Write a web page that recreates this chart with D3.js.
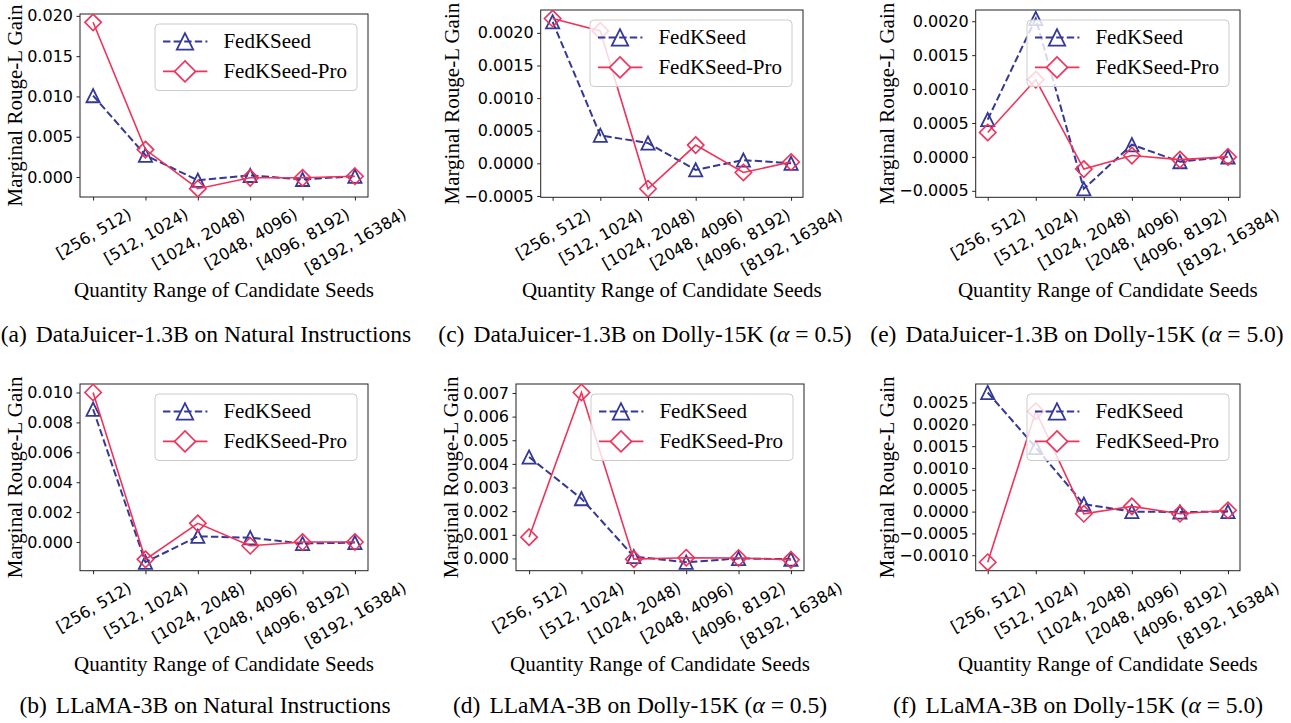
<!DOCTYPE html>
<html>
<head>
<meta charset="utf-8">
<script src="https://cdn.jsdelivr.net/npm/d3@7"></script>
<style>
  body { margin: 0; background: #fff; }
</style>
</head>
<body>
<svg id="chart" width="1291" height="723"></svg>
<script>
// Data
var categories = ["[256, 512)", "[512, 1024)", "[1024, 2048)", "[2048, 4096)", "[4096, 8192)", "[8192, 16384)"];
var seriesNames = ["FedKSeed", "FedKSeed-Pro"];

var aFedKSeed = [0.0101, 0.0027, -0.0004, 0.0002, -0.0003, 0.0001];
var aPro      = [0.0192, 0.0034, -0.00145, -0.0001, -0.0001, 0.0001];
var cFedKSeed = [0.00217, 0.00043, 0.00031, -0.0001, 0.00005, 0.0];
var cPro      = [0.00222, 0.00203, -0.00039, 0.00028, -0.00014, 0.00002];
var eFedKSeed = [0.00055, 0.00204, -0.00047, 0.00018, -0.00007, 0.0];
var ePro      = [0.00036, 0.00114, -0.00018, 0.00002, -0.00004, 0.0];
var bFedKSeed = [0.00888, -0.00135, 0.00038, 0.00029, -0.0001, -0.00004];
var bPro      = [0.0100, -0.00116, 0.00125, -0.00025, 0.0, 0.0];
var dFedKSeed = [0.00429, 0.00253, 0.00008, -0.00016, 0.0, -0.00003];
var dPro      = [0.0009, 0.00702, -0.00003, 0.00003, 0.00002, -0.00006];
var fFedKSeed = [0.00273, 0.00147, 0.00017, 0.0, -0.00001, 0.0];
var fPro      = [-0.00116, 0.0023, -0.00005, 0.00012, -0.00005, 0.00003];

var aTicks = [0, 0.005, 0.010, 0.015, 0.020];
var cTicks = [-0.0005, 0, 0.0005, 0.0010, 0.0015, 0.0020];
var eTicks = [-0.0005, 0, 0.0005, 0.0010, 0.0015, 0.0020];
var bTicks = [0, 0.002, 0.004, 0.006, 0.008, 0.010];
var dTicks = [0, 0.001, 0.002, 0.003, 0.004, 0.005, 0.006, 0.007];
var fTicks = [-0.0010, -0.0005, 0, 0.0005, 0.0010, 0.0015, 0.0020, 0.0025];

var xLabel = "Quantity Range of Candidate Seeds";
var yLabel = "Marginal Rouge-L Gain";

// Panel layout (pixel boxes of each axes)
var panels = [
  { fed: aFedKSeed, pro: aPro, ticks: aTicks, fmt: ".3f", left: 80, right: 368, top: 14, bottom: 197,
    cap: ["(a)", "DataJuicer-1.3B on Natural Instructions"], capX: 206, capY: 342 },
  { fed: cFedKSeed, pro: cPro, ticks: cTicks, fmt: ".4f", left: 540.7, right: 803, top: 10, bottom: 197.3,
    cap: ["(c)", "DataJuicer-1.3B on Dolly-15K (", "0.5)"], capX: 645, capY: 342 },
  { fed: eFedKSeed, pro: ePro, ticks: eTicks, fmt: ".4f", left: 975.7, right: 1240, top: 10, bottom: 197.3,
    cap: ["(e)", "DataJuicer-1.3B on Dolly-15K (", "5.0)"], capX: 1077, capY: 342 },
  { fed: bFedKSeed, pro: bPro, ticks: bTicks, fmt: ".3f", left: 80, right: 368, top: 384, bottom: 570.7,
    cap: ["(b)", "LLaMA-3B on Natural Instructions"], capX: 205, capY: 713 },
  { fed: dFedKSeed, pro: dPro, ticks: dTicks, fmt: ".3f", left: 516, right: 804, top: 384, bottom: 570.7,
    cap: ["(d)", "LLaMA-3B on Dolly-15K (", "0.5)"], capX: 640, capY: 713 },
  { fed: fFedKSeed, pro: fPro, ticks: fTicks, fmt: ".4f", left: 975.7, right: 1240, top: 384, bottom: 570.7,
    cap: ["(f)", "LLaMA-3B on Dolly-15K (", "5.0)"], capX: 1078, capY: 713 }
];

var blue = "#343896", pink = "#f0325a";
var serif = "'Liberation Serif', 'Times New Roman', serif";
var sans = "'DejaVu Sans', sans-serif";

var svg = d3.select("#chart");

function triPath(r) {
  return "M0," + (-r) + "L" + (-r) + "," + r + "L" + r + "," + r + "Z";
}
function diaPath(r) {
  return "M0," + (-r) + "L" + r + ",0L0," + r + "L" + (-r) + ",0Z";
}

panels.forEach(function (p, k) {
  var g = svg.append("g");

  // Scales: matplotlib style 5% margins
  var x = d3.scaleLinear().domain([-0.25, 5.25]).range([p.left, p.right]);
  var ext = d3.extent(p.fed.concat(p.pro));
  var pad = (ext[1] - ext[0]) * 0.05;
  var y = d3.scaleLinear().domain([ext[0] - pad, ext[1] + pad]).range([p.bottom, p.top]);

  // Y axis
  var yAxis = g.append("g")
    .attr("transform", "translate(" + p.left + ",0)")
    .call(d3.axisLeft(y).tickValues(p.ticks).tickFormat(d3.format(p.fmt))
      .tickSize(3.5).tickPadding(3.5).tickSizeOuter(0));
  yAxis.select(".domain").remove();
  yAxis.selectAll("line").attr("stroke", "#222");
  yAxis.selectAll("text").style("font-family", sans).style("font-size", "16px").attr("fill", "#000");

  var maxW = 0;
  yAxis.selectAll("text").each(function () { maxW = Math.max(maxW, this.getBBox().width); });

  // X axis
  var xAxis = g.append("g")
    .attr("transform", "translate(0," + p.bottom + ")")
    .call(d3.axisBottom(x).tickValues(d3.range(categories.length))
      .tickFormat(function (i) { return categories[i]; })
      .tickSize(3.5).tickSizeOuter(0));
  xAxis.select(".domain").remove();
  xAxis.selectAll("line").attr("stroke", "#222");
  xAxis.selectAll("text")
    .style("font-family", sans).style("font-size", "16px").attr("fill", "#000")
    .attr("text-anchor", "middle").attr("dy", "0.35em")
    .each(function () {
      var w = this.getComputedTextLength();
      var yc = 10 + (w * 0.5 + 13 * 0.866) / 2;
      d3.select(this).attr("y", yc).attr("transform", "rotate(-30,0," + yc + ")");
    });

  // Frame
  g.append("rect")
    .attr("x", p.left).attr("y", p.top)
    .attr("width", p.right - p.left).attr("height", p.bottom - p.top)
    .attr("fill", "none").attr("stroke", "#222").attr("stroke-width", 1);

  // Axis labels
  g.append("text")
    .attr("transform", "translate(" + (p.left - 7 - maxW - 5.3) + "," + ((p.top + p.bottom) / 2) + ") rotate(-90)")
    .attr("text-anchor", "middle")
    .style("font-family", serif).style("font-size", "21px")
    .text(yLabel);
  g.append("text")
    .attr("x", (p.left + p.right) / 2).attr("y", p.bottom + 100)
    .attr("text-anchor", "middle")
    .style("font-family", serif).style("font-size", "21px")
    .text(xLabel);

  // Clip region
  var clipId = "clip" + k;
  g.append("clipPath").attr("id", clipId).append("rect")
    .attr("x", p.left).attr("y", p.top)
    .attr("width", p.right - p.left).attr("height", p.bottom - p.top);
  var plot = g.append("g").attr("clip-path", "url(#" + clipId + ")");

  var line = d3.line().x(function (d, i) { return x(i); }).y(function (d) { return y(d); });

  // FedKSeed
  plot.append("path").datum(p.fed)
    .attr("d", line).attr("fill", "none").attr("stroke", blue)
    .attr("stroke-width", 2).attr("stroke-dasharray", "7.4,3.2");
  plot.selectAll(".tri").data(p.fed).enter().append("path")
    .attr("class", "tri")
    .attr("transform", function (d, i) { return "translate(" + x(i) + "," + y(d) + ")"; })
    .attr("d", triPath(6.6)).attr("fill", "none").attr("stroke", blue).attr("stroke-width", 1.8);

  // FedKSeed-Pro
  plot.append("path").datum(p.pro)
    .attr("d", line).attr("fill", "none").attr("stroke", pink).attr("stroke-width", 1.6);
  plot.selectAll(".dia").data(p.pro).enter().append("path")
    .attr("class", "dia")
    .attr("transform", function (d, i) { return "translate(" + x(i) + "," + y(d) + ")"; })
    .attr("d", diaPath(8.2)).attr("fill", "none").attr("stroke", pink).attr("stroke-width", 1.6);

  // Legend (upper right)
  var lw = 202, lh = 66.5;
  var lx = p.right - 11 - lw, ly = p.top + 10;
  var leg = g.append("g").attr("transform", "translate(" + lx + "," + ly + ")");
  leg.append("rect").attr("width", lw).attr("height", lh).attr("rx", 4)
    .attr("fill", "#fff").attr("fill-opacity", 0.8)
    .attr("stroke", "#cccccc").attr("stroke-width", 1);
  [0, 1].forEach(function (j) {
    var ry = 17.4 + j * 30;
    var c = j === 0 ? blue : pink;
    leg.append("line").attr("x1", 8).attr("x2", 52.4).attr("y1", ry).attr("y2", ry)
      .attr("stroke", c).attr("stroke-width", j === 0 ? 2 : 1.6)
      .attr("stroke-dasharray", j === 0 ? "7.4,3.2" : null);
    leg.append("path").attr("transform", "translate(30," + ry + ")")
      .attr("d", j === 0 ? triPath(8.2) : diaPath(10.5))
      .attr("fill", j === 0 ? "none" : "#fff").attr("stroke", c).attr("stroke-width", j === 0 ? 1.8 : 1.6);
    leg.append("text").attr("x", 68.4).attr("y", ry).attr("dy", "0.33em")
      .style("font-family", serif).style("font-size", "21px")
      .text(seriesNames[j]);
  });

  // Caption
  var cap = svg.append("text")
    .attr("x", p.capX).attr("y", p.capY).attr("text-anchor", "middle")
    .style("font-family", serif).style("font-size", "23.5px");
  cap.append("tspan").text(p.cap[0]);
  cap.append("tspan").attr("dx", 9).text(p.cap[1]);
  if (p.cap.length > 2) {
    cap.append("tspan").style("font-style", "italic").text("\u03b1");
    cap.append("tspan").text(" = " + p.cap[2]);
  }
});
</script>
</body>
</html>
